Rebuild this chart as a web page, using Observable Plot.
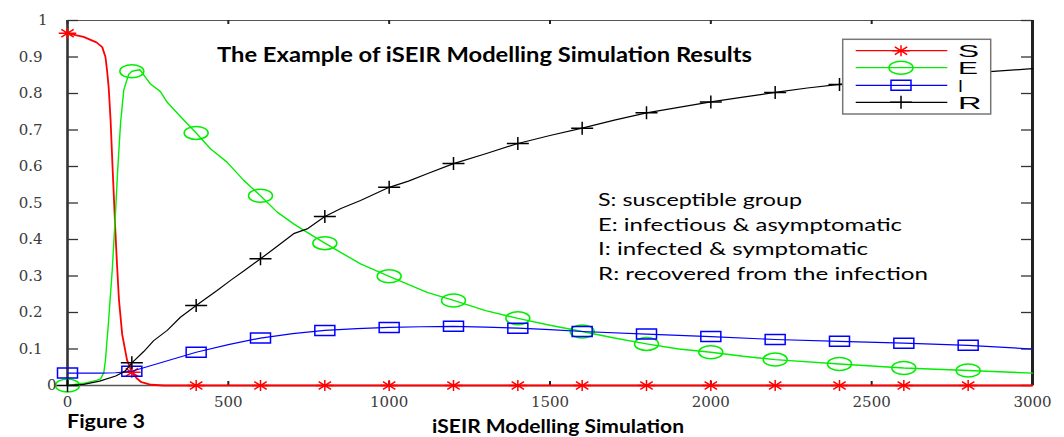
<!DOCTYPE html>
<html><head><meta charset="utf-8">
<script src="https://cdn.jsdelivr.net/npm/d3@7"></script>
<script src="https://cdn.jsdelivr.net/npm/@observablehq/plot@0.6"></script>
<style>html,body{margin:0;padding:0;background:#fff;} #chart{position:relative;width:1064px;height:437px;}</style>
</head><body><div id="chart"></div>
<script>
// ---- data ----
const S_x = [0,50,90,108,118,123,128,134,139,144,149,154,160,170,185,200,215,230,260,300,400,600,800,1000,1200,1400,1600,1800,2000,2200,2400,2600,2800,3000];
const S_y = [0.965,0.955,0.94,0.927,0.9,0.863,0.817,0.726,0.62,0.52,0.42,0.33,0.235,0.14,0.07,0.036,0.02,0.009,0.002,0,0,0,0,0,0,0,0,0,0,0,0,0,0,0];

const E_x = [0,50,90,103,113,118,128,139,149,156,165,175,190,200,225,242,258,289,310,351,400,445,496,548,600,652,703,735,800,911,1000,1118,1200,1300,1400,1500,1600,1700,1800,1900,2000,2100,2200,2400,2600,2800,3000];
const E_y = [0,0.006,0.014,0.018,0.036,0.07,0.18,0.315,0.47,0.59,0.72,0.81,0.852,0.861,0.865,0.845,0.826,0.805,0.776,0.737,0.692,0.648,0.612,0.562,0.52,0.475,0.443,0.425,0.39,0.333,0.299,0.255,0.233,0.205,0.184,0.165,0.148,0.13,0.114,0.1,0.091,0.08,0.071,0.059,0.048,0.041,0.034];

const I_x = [0,100,150,200,250,300,350,400,500,600,700,800,900,1000,1100,1200,1300,1400,1500,1600,1800,2000,2200,2400,2600,2800,3000];
const I_y = [0.034,0.034,0.035,0.039,0.052,0.065,0.078,0.091,0.112,0.13,0.142,0.151,0.156,0.159,0.161,0.162,0.16,0.157,0.153,0.148,0.141,0.134,0.126,0.121,0.116,0.11,0.1];

const R_x = [0,50,100,150,180,200,237,268,310,351,400,465,507,550,600,650,703,745,800,850,911,1000,1060,1118,1200,1300,1400,1500,1600,1700,1800,1900,2000,2100,2200,2300,2400,2500,2600,2700,2800,2900,3000];
const R_y = [0,0.003,0.012,0.026,0.04,0.062,0.093,0.123,0.151,0.187,0.219,0.26,0.288,0.315,0.347,0.38,0.416,0.429,0.463,0.485,0.507,0.543,0.56,0.58,0.608,0.635,0.663,0.685,0.705,0.727,0.747,0.762,0.777,0.79,0.803,0.815,0.825,0.835,0.843,0.85,0.856,0.862,0.868];

const seriesNames = ["S","E","I","R"];
const seriesColors = ["#ff0000","#00ee00","#0000ff","#000000"];
const seriesWidths = [1.8,1.4,1.2,1.2];
const markerStep = 200;
const markerMax = 2800;

const xTicks = [0,500,1000,1500,2000,2500,3000];
const yTicks = [0,0.1,0.2,0.3,0.4,0.5,0.6,0.7,0.8,0.9,1];
const yTickLabels = ["0","0.1","0.2","0.3","0.4","0.5","0.6","0.7","0.8","0.9","1"];

const titleText = "The Example of iSEIR Modelling Simulation Results";
const descLines = ["S: susceptible group","E: infectious & asymptomatic","I: infected & symptomatic","R: recovered from the infection"];
const figureText = "Figure 3";
const xLabelText = "iSEIR Modelling Simulation";

// ---- marker shapes ----
const symS = {draw(c){ c.moveTo(-8.8,0); c.lineTo(8.8,0); c.moveTo(0,-5.5); c.lineTo(0,5.5); c.moveTo(-6.2,-3.9); c.lineTo(6.2,3.9); c.moveTo(-6.2,3.9); c.lineTo(6.2,-3.9);}};
const symE = {draw(c){ const rx=12, ry=6.5, k=0.5523; c.moveTo(rx,0); c.bezierCurveTo(rx,ry*k,rx*k,ry,0,ry); c.bezierCurveTo(-rx*k,ry,-rx,ry*k,-rx,0); c.bezierCurveTo(-rx,-ry*k,-rx*k,-ry,0,-ry); c.bezierCurveTo(rx*k,-ry,rx,-ry*k,rx,0); c.closePath();}};
const symI = {draw(c){ c.rect(-10,-5,20,10); }};
const symR = {draw(c){ c.moveTo(-11,0); c.lineTo(11,0); c.moveTo(0,-6.5); c.lineTo(0,6.5); }};
const symbols = [symS, symE, symI, symR];

const seriesData = [[S_x,S_y],[E_x,E_y],[I_x,I_y],[R_x,R_y]].map(([xs,ys],k) =>
  xs.map((x,i)=>({x, y: ys[i], s: seriesNames[k]})));

const W = 1064, H = 437, mL = 67, mR = 32, mT = 20, mB = 52;
const fw = W - mL - mR, fh = H - mT - mB;

const marks = [
  Plot.ruleY([1], {stroke:"#555", strokeWidth:1.2}),
  Plot.ruleY([0], {stroke:"#555", strokeWidth:1.6}),
  Plot.tickY(yTicks, {y: d=>d, insetRight: fw - 11, stroke:"#333", strokeWidth:1.3}),
  Plot.tickY(yTicks, {y: d=>d, insetLeft: fw - 11, stroke:"#333", strokeWidth:1.3}),
  Plot.tickX(xTicks, {x: d=>d, insetBottom: fh - 4, stroke:"#222", strokeWidth:2}),
  Plot.tickX(xTicks, {x: d=>d, insetTop: fh - 4, stroke:"#222", strokeWidth:2}),
  Plot.ruleX([0], {stroke:"#333", strokeWidth:2.6}),
  Plot.ruleX([3000], {stroke:"#222", strokeWidth:3}),
];
seriesData.forEach((rows,k) => {
  marks.push(Plot.line(rows, {x:"x", y:"y", stroke: seriesColors[k], strokeWidth: seriesWidths[k]}));
  marks.push(Plot.dot(rows.filter(d => d.x % markerStep === 0 && d.x <= markerMax),
    {x:"x", y:"y", symbol: symbols[k], stroke: seriesColors[k], fill:"none", strokeWidth:1.5}));
});
const tickFont = {fontFamily:"DejaVu Serif", fontSize:15, fill:"#3a3a3a"};
marks.push(Plot.text(xTicks, {x:d=>d, text:d=>String(d), frameAnchor:"bottom", dy:17, lineAnchor:"middle", ariaLabel:"xlab", ...tickFont}));
const yl = yTicks.map((v,i)=>({v, t:yTickLabels[i]}));
marks.push(Plot.text(yl.filter(d=>d.t.length===3), {y:"v", text:"t", frameAnchor:"left", dx:-25, textAnchor:"end", lineAnchor:"middle", ariaLabel:"ylab", ...tickFont}));
marks.push(Plot.text(yl.filter(d=>d.t==="1"), {y:"v", text:"t", frameAnchor:"left", dx:-20, textAnchor:"end", lineAnchor:"middle", ariaLabel:"ylab", ...tickFont}));
marks.push(Plot.text(yl.filter(d=>d.t==="0"), {y:"v", text:"t", frameAnchor:"left", dx:-11, textAnchor:"end", lineAnchor:"middle", ariaLabel:"ylab", ...tickFont}));

const chart = Plot.plot({
  width: W, height: H, marginLeft: mL, marginRight: mR, marginTop: mT, marginBottom: mB,
  x: {domain:[0,3000], axis:null},
  y: {domain:[0,1], axis:null},
  style: {background:"#fff", overflow:"visible"},
  marks
});
document.getElementById("chart").appendChild(chart);

const svg = d3.select(chart);
svg.selectAll('g[aria-label="xlab"] text').each(function(){
  const t = this.textContent; const w = t === "0" ? 15 : 14.6 * t.length;
  d3.select(this).attr("textLength", w).attr("lengthAdjust","spacingAndGlyphs");
});
svg.selectAll('g[aria-label="ylab"] text').each(function(){
  const t = this.textContent; const w = t === "0" ? 11.5 : t === "1" ? 7.5 : 29;
  d3.select(this).attr("textLength", w).attr("lengthAdjust","spacingAndGlyphs");
});

function addText(parent, txt, x, y, w, opts){
  const t = parent.append("text").attr("x", x).attr("y", y).text(txt)
    .attr("text-anchor","start")
    .attr("font-family", opts.family || "Lato").attr("font-size", opts.size)
    .attr("font-weight", opts.weight || "normal").attr("fill", opts.fill || "#000");
  if (w) t.attr("textLength", w).attr("lengthAdjust","spacingAndGlyphs");
  return t;
}
addText(svg, titleText, 217, 61.5, 535, {size:20, weight:"bold"});
const descEnds = [802, 902, 868, 928];
const descBase = [205.7, 230.7, 255.3, 280];
descLines.forEach((l,i)=> addText(svg, l, 598, descBase[i], descEnds[i]-598, {size:17.5}));
addText(svg, figureText, 67, 428.3, 78, {size:18, weight:"bold"});
addText(svg, xLabelText, 432, 432.7, 252, {size:18, weight:"bold"});

// legend
const lg = svg.append("g");
lg.append("rect").attr("x",842.7).attr("y",39.3).attr("width",148).attr("height",74.7)
  .attr("fill","#fff").attr("stroke","#777").attr("stroke-width",1.5);
const legY = [50.7, 67.7, 85.3, 102.3];
const letterW = [21, 20, 5, 23.5];
seriesNames.forEach((n,k)=>{
  lg.append("line").attr("x1",855.7).attr("x2",947.3).attr("y1",legY[k]).attr("y2",legY[k])
    .attr("stroke",seriesColors[k]).attr("stroke-width",1.2);
  lg.append("path").attr("d", d3.symbol(symbols[k])()).attr("transform",`translate(901,${legY[k]})`)
    .attr("fill","none").attr("stroke",seriesColors[k]).attr("stroke-width",1.5);
  addText(lg, n, 958, legY[k]+6.3, letterW[k], {family:"Liberation Sans", size:17});
});
</script>
</body></html>
